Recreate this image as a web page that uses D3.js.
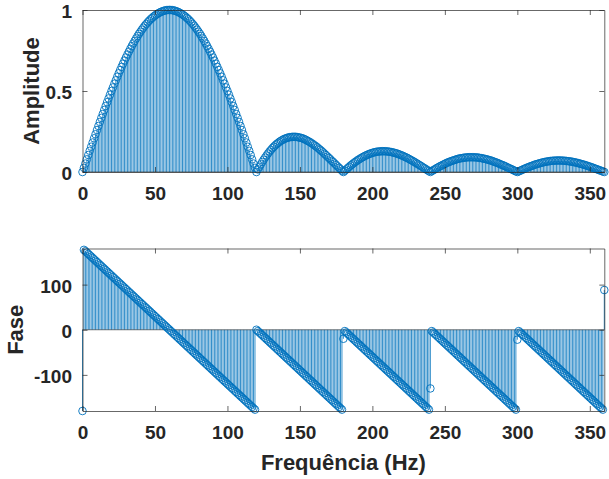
<!DOCTYPE html>
<html><head><meta charset="utf-8">
<script src="https://cdn.jsdelivr.net/npm/d3@7"></script>
<style>
body{margin:0;background:#fff}
text{font-family:"Liberation Sans",Arial,Helvetica,sans-serif;font-weight:bold;fill:#262626}
</style>
</head><body>
<svg id="chart" width="609" height="479"></svg>
<script>
// ---------- DATA ----------
const xTicks = [0, 50, 100, 150, 200, 250, 300, 350];
const ampTicks = [0, 0.5, 1];
const phaseTicks = [-100, 0, 100];
const freqStart = 0, freqStep = 1;   // sample grid (Hz)

// amplitude, f = 0..120
const ampMain = [0,.026,.052,.078,.105,.131,.156,.182,.208,.233,
.259,.284,.309,.334,.358,.383,.407,.431,.454,.477,
.500,.522,.545,.566,.588,.609,.629,.649,.669,.688,
.707,.725,.743,.760,.777,.793,.809,.824,.839,.853,
.866,.879,.891,.903,.914,.924,.934,.943,.951,.959,
.966,.972,.978,.983,.988,.991,.995,.997,.999,1.0,
1.0,
1.0,.999,.997,.995,.991,.988,.983,.978,.972,.966,
.959,.951,.943,.934,.924,.914,.903,.891,.879,.866,
.853,.839,.824,.809,.793,.777,.760,.743,.725,.707,
.688,.669,.649,.629,.609,.588,.566,.545,.522,.500,
.477,.454,.431,.407,.383,.358,.334,.309,.284,.259,
.233,.208,.182,.156,.131,.105,.078,.052,.026,0];
// f = 121..180
const ampSide1 = [.016,.032,.047,.062,.076,.089,.102,.114,.126,.136,
.147,.156,.165,.173,.180,.187,.193,.198,.203,.207,
.210,.213,.215,.216,.217,.217,.217,.216,.214,.212,
.210,.207,.203,.199,.194,.189,.184,.178,.172,.165,
.159,.152,.144,.137,.129,.121,.112,.104,.095,.087,
.078,.069,.061,.052,.043,.034,.026,.017,.008,0];
// f = 181..240
const ampSide2 = [.008,.016,.024,.032,.040,.047,.054,.061,.067,.074,
.079,.085,.090,.095,.100,.104,.108,.112,.115,.118,
.121,.123,.125,.126,.127,.128,.128,.128,.128,.127,
.126,.125,.123,.121,.119,.116,.114,.110,.107,.103,
.100,.095,.091,.087,.082,.077,.072,.067,.062,.056,
.051,.045,.040,.034,.028,.023,.017,.011,.006,0];
// f = 241..300
const ampSide3 = [.006,.011,.016,.022,.027,.032,.037,.041,.046,.050,
.055,.059,.062,.066,.069,.072,.075,.078,.081,.083,
.085,.086,.088,.089,.090,.091,.091,.091,.091,.091,
.090,.090,.089,.087,.086,.084,.082,.080,.078,.075,
.073,.070,.067,.063,.060,.057,.053,.049,.045,.042,
.038,.034,.029,.025,.021,.017,.013,.008,.004,0];
// f = 301..360
const ampSide4 = [.004,.008,.012,.016,.020,.024,.028,.031,.035,.038,
.041,.045,.048,.050,.053,.055,.058,.060,.062,.064,
.065,.067,.068,.069,.070,.070,.071,.071,.071,.071,
.070,.070,.069,.068,.067,.066,.064,.063,.061,.059,
.057,.055,.052,.050,.047,.045,.042,.039,.036,.033,
.030,.027,.023,.020,.017,.013,.010,.007,.003,0];

// phase (degrees), f = 0..120
const phaseMain = [-180,
177,174,171,168,165,162,159,156,153,150,147,144,141,138,135,132,129,126,123,120,
117,114,111,108,105,102,99,96,93,90,87,84,81,78,75,72,69,66,63,60,
57,54,51,48,45,42,39,36,33,30,27,24,21,18,15,12,9,6,3,0,
-3,-6,-9,-12,-15,-18,-21,-24,-27,-30,-33,-36,-39,-42,-45,-48,-51,-54,-57,-60,
-63,-66,-69,-72,-75,-78,-81,-84,-87,-90,-93,-96,-99,-102,-105,-108,-111,-114,-117,-120,
-123,-126,-129,-132,-135,-138,-141,-144,-147,-150,-153,-156,-159,-162,-165,-168,-171,-174,-177,
0];
// f = 121..180
const phaseSide1 = [-3,-6,-9,-12,-15,-18,-21,-24,-27,-30,-33,-36,-39,-42,-45,-48,-51,-54,-57,-60,
-63,-66,-69,-72,-75,-78,-81,-84,-87,-90,-93,-96,-99,-102,-105,-108,-111,-114,-117,-120,
-123,-126,-129,-132,-135,-138,-141,-144,-147,-150,-153,-156,-159,-162,-165,-168,-171,-174,-177,
-20];
// f = 181..240
const phaseSide2 = [-3,-6,-9,-12,-15,-18,-21,-24,-27,-30,-33,-36,-39,-42,-45,-48,-51,-54,-57,-60,
-63,-66,-69,-72,-75,-78,-81,-84,-87,-90,-93,-96,-99,-102,-105,-108,-111,-114,-117,-120,
-123,-126,-129,-132,-135,-138,-141,-144,-147,-150,-153,-156,-159,-162,-165,-168,-171,-174,-177,
-130];
// f = 241..300
const phaseSide3 = [-3,-6,-9,-12,-15,-18,-21,-24,-27,-30,-33,-36,-39,-42,-45,-48,-51,-54,-57,-60,
-63,-66,-69,-72,-75,-78,-81,-84,-87,-90,-93,-96,-99,-102,-105,-108,-111,-114,-117,-120,
-123,-126,-129,-132,-135,-138,-141,-144,-147,-150,-153,-156,-159,-162,-165,-168,-171,-174,-177,
-22];
// f = 301..360
const phaseSide4 = [-3,-6,-9,-12,-15,-18,-21,-24,-27,-30,-33,-36,-39,-42,-45,-48,-51,-54,-57,-60,
-63,-66,-69,-72,-75,-78,-81,-84,-87,-90,-93,-96,-99,-102,-105,-108,-111,-114,-117,-120,
-123,-126,-129,-132,-135,-138,-141,-144,-147,-150,-153,-156,-159,-162,-165,-168,-171,-174,-177,
88];

const amplitude = [].concat(ampMain, ampSide1, ampSide2, ampSide3, ampSide4);
const phase = [].concat(phaseMain, phaseSide1, phaseSide2, phaseSide3, phaseSide4);
const freqs = amplitude.map((_, i) => freqStart + i * freqStep);

// ---------- LAYOUT ----------
const color = "#0072BD";
const axisColor = "#262626";
const L = 82.5, R = 604.3;
const svg = d3.select("#chart");
const x = d3.scaleLinear().domain([0, 360]).range([L, R]);

function panel(vals, yScale, yTicks, yFmt, label, labelX) {
  const [yb, yt] = yScale.range();
  const g = svg.append("g");
  const base = yScale(0);
  // stems
  g.append("g").selectAll("line").data(freqs).join("line")
    .attr("x1", (f) => x(f)).attr("x2", (f) => x(f))
    .attr("y1", base).attr("y2", (f, i) => yScale(vals[i]))
    .attr("stroke", color).attr("stroke-width", 0.8);
  // baseline
  g.append("line").attr("x1", L).attr("x2", R).attr("y1", base).attr("y2", base)
    .attr("stroke", axisColor).attr("stroke-width", 0.6);
  // markers
  g.append("g").selectAll("circle").data(freqs).join("circle")
    .attr("cx", (f) => x(f)).attr("cy", (f, i) => yScale(vals[i]))
    .attr("r", 3.8).attr("fill", "none")
    .attr("stroke", color).attr("stroke-width", 0.9);
  // axes (box with inward ticks)
  const ax = [];
  ax.push(g.append("g").attr("transform", `translate(0,${yb})`)
    .call(d3.axisBottom(x).tickValues(xTicks).tickSize(-5).tickSizeOuter(0).tickPadding(15)));
  ax.push(g.append("g").attr("transform", `translate(0,${yt})`)
    .call(d3.axisTop(x).tickValues(xTicks).tickSize(-5).tickSizeOuter(0).tickFormat("")));
  ax.push(g.append("g").attr("transform", `translate(${L},0)`)
    .call(d3.axisLeft(yScale).tickValues(yTicks).tickSize(-5).tickSizeOuter(0).tickPadding(10.5).tickFormat(yFmt)));
  ax.push(g.append("g").attr("transform", `translate(${R},0)`)
    .call(d3.axisRight(yScale).tickValues(yTicks).tickSize(-5).tickSizeOuter(0).tickFormat("")));
  ax.forEach(a => {
    a.select(".domain").attr("stroke", axisColor).attr("stroke-width", 0.7);
    a.selectAll(".tick line").attr("stroke", axisColor).attr("stroke-width", 0.7);
    a.selectAll("text").style("font-size", "19px").attr("fill", axisColor)
      .style("font-family", '"Liberation Sans", Arial, sans-serif').style("font-weight", "bold");
  });
  ax[2].selectAll("text").attr("dy", "0.42em");
  // y label
  g.append("text").attr("transform", `translate(${labelX},${(yb + yt) / 2}) rotate(-90)`)
    .attr("text-anchor", "middle").attr("dominant-baseline", "central")
    .style("font-size", "22px").text(label);
}

const yAmp = d3.scaleLinear().domain([0, 1]).range([172, 10]);
const yPh = d3.scaleLinear().domain([-180, 180]).range([411, 248.5]);
panel(amplitude, yAmp, ampTicks, (d) => d === 0.5 ? "0.5" : String(d), "Amplitude", 31.5);
panel(phase, yPh, phaseTicks, (d) => String(d), "Fase", 15.5);

svg.append("text").attr("x", (L + R) / 2).attr("y", 462)
  .attr("text-anchor", "middle").attr("dominant-baseline", "central")
  .style("font-size", "22px").text("Frequência (Hz)");
</script>
</body></html>
